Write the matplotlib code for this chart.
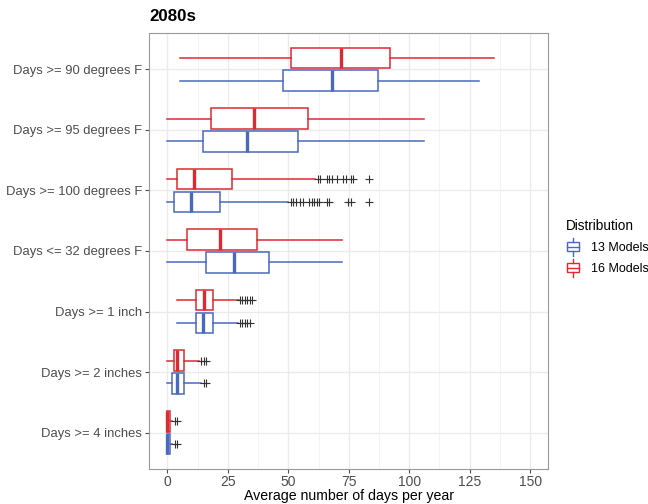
"""
Boxplots of projected extreme-day counts, 2080s, 13 vs 16 model ensembles
"""

import numpy as np
import matplotlib
matplotlib.use('Agg')
import matplotlib.pyplot as plt
from matplotlib.ticker import MultipleLocator
from matplotlib.legend_handler import HandlerBase
from matplotlib.patches import Rectangle
from matplotlib.lines import Line2D

### Data, bottom to top
categories = ["Days >= 4 inches", "Days >= 2 inches", "Days >= 1 inch",
              "Days <= 32 degrees F", "Days >= 100 degrees F",
              "Days >= 95 degrees F", "Days >= 90 degrees F"]

# 13 Models (blue)
m13_lo  = [0.0, 0.0, 4.1, 0.0, 0.0, 0.0, 5.0]
m13_q1  = [0.0, 1.9, 12.0, 16.0, 2.9, 14.9, 47.7]
m13_med = [0.0, 3.9, 14.9, 27.4, 9.9, 32.9, 68.1]
m13_q3  = [1.0, 7.0, 19.0, 42.0, 21.9, 54.0, 87.2]
m13_hi  = [2.0, 14.0, 29.0, 72.1, 50.0, 106.0, 128.9]
m13_out = [[3, 4], [15, 16], [30, 31, 32, 33, 34], [],
           [51.1, 52.1, 53.2, 54.8, 55.9, 58.7, 59.7, 60.7, 61.7, 62.8,
            65.9, 66.9, 74.8, 75.9, 83.5], [], []]

# 16 Models (red)
m16_lo  = [0.0, 0.0, 4.1, 0.0, 0.0, 0.0, 5.0]
m16_q1  = [0.0, 2.9, 12.0, 8.0, 3.9, 17.9, 51.0]
m16_med = [0.0, 4.1, 15.0, 21.9, 10.9, 36.0, 71.9]
m16_q3  = [1.0, 7.0, 19.0, 36.9, 26.9, 58.3, 92.0]
m16_hi  = [2.0, 13.0, 29.5, 72.1, 61.0, 106.0, 134.9]
m16_out = [[3, 4], [14, 15, 16], [30, 31, 32, 33, 34, 35], [],
           [62.1, 63.1, 65.9, 66.8, 67.9, 70.0, 72.5, 73.7, 75.9, 76.9, 83.5],
           [], []]

blue = '#4A68BF'
red = '#DC2A32'


def make_stats(lo, q1, med, q3, hi, out):
    stats = []
    for a, b, c, d, e, f in zip(lo, q1, med, q3, hi, out):
        stats.append(dict(whislo=a, q1=b, med=c, q3=d, whishi=e, fliers=f))
    return stats


class BoxKey(HandlerBase):
    def create_artists(self, legend, orig_handle, xdescent, ydescent,
                       width, height, fontsize, trans):
        c = orig_handle.get_edgecolor()
        h = height * 1.35
        y0 = -ydescent - (h - height) / 2
        x0 = -xdescent + width * 0.08
        w = width * 0.84
        xm = x0 + w / 2
        lw = 1.0
        arts = [Rectangle((x0, y0 + 0.25 * h), w, 0.5 * h, fc='white', ec=c, lw=lw, transform=trans),
                Line2D([x0, x0 + w], [y0 + 0.5 * h] * 2, color=c, lw=lw, transform=trans),
                Line2D([xm, xm], [y0, y0 + 0.25 * h], color=c, lw=lw, transform=trans),
                Line2D([xm, xm], [y0 + 0.75 * h, y0 + h], color=c, lw=lw, transform=trans)]
        return arts


def main():
    plt.rcParams['font.family'] = ['Liberation Sans', 'DejaVu Sans']

    fig = plt.figure()
    fig.set_size_inches(6.48, 5.04)
    ax = fig.add_axes([0.2304, 0.0695, 0.6156, 0.865])

    pos = np.arange(1, len(categories) + 1)
    off, bh = 0.1875, 0.34

    for stats, col, dy in [(make_stats(m13_lo, m13_q1, m13_med, m13_q3, m13_hi, m13_out), blue, -off),
                           (make_stats(m16_lo, m16_q1, m16_med, m16_q3, m16_hi, m16_out), red, off)]:
        ax.bxp(stats, positions=pos + dy, widths=bh, orientation='horizontal',
               showcaps=False, patch_artist=True, manage_ticks=False,
               boxprops=dict(facecolor='white', edgecolor=col, linewidth=1.1),
               whiskerprops=dict(color=col, linewidth=1.1),
               medianprops=dict(color=col, linewidth=2.4, solid_capstyle='butt'),
               flierprops=dict(marker='+', markeredgecolor='#333333', markersize=6,
                               markeredgewidth=0.8, linestyle='none'),
               zorder=3)

    ax.set_xlim(-7.5, 157.5)
    ax.set_ylim(0.4, len(categories) + 0.6)
    ax.xaxis.set_major_locator(MultipleLocator(25))
    ax.xaxis.set_minor_locator(MultipleLocator(12.5))
    ax.set_yticks(pos)
    ax.set_yticklabels(categories)

    ax.grid(which='major', color='#EBEBEB', linewidth=1.0, zorder=0)
    ax.grid(which='minor', axis='x', color='#F3F3F3', linewidth=0.6, zorder=0)
    ax.set_axisbelow(True)
    for sp in ax.spines.values():
        sp.set_color('#999999')
        sp.set_linewidth(0.8)
    ax.tick_params(axis='both', which='major', labelsize=9.4, colors='#4D4D4D',
                   length=3, width=0.8, pad=2)
    ax.tick_params(axis='x', which='major', labelsize=10, pad=1.5)
    ax.tick_params(axis='both', which='minor', length=0)
    for t in ax.get_xticklabels() + ax.get_yticklabels():
        t.set_color('#4D4D4D')

    ax.set_xlabel('Average number of days per year', fontsize=10.2, labelpad=0)
    ax.set_title('2080s', fontsize=12.2, fontweight='bold', loc='left', pad=9)

    h13 = Rectangle((0, 0), 1, 1, ec=blue, fc='white')
    h16 = Rectangle((0, 0), 1, 1, ec=red, fc='white')
    leg = fig.legend([h13, h16], ['13 Models', '16 Models'], title='Distribution',
                     handler_map={Rectangle: BoxKey()}, loc='upper left',
                     bbox_to_anchor=(0.865, 0.575), frameon=False, fontsize=9.0,
                     title_fontsize=9.8, handlelength=1.2, handleheight=1.3,
                     handletextpad=0.8, labelspacing=0.55, borderaxespad=0)
    leg._legend_box.align = 'left'

    fig.savefig('out.png', dpi=100)


if __name__ == '__main__':
    main()
